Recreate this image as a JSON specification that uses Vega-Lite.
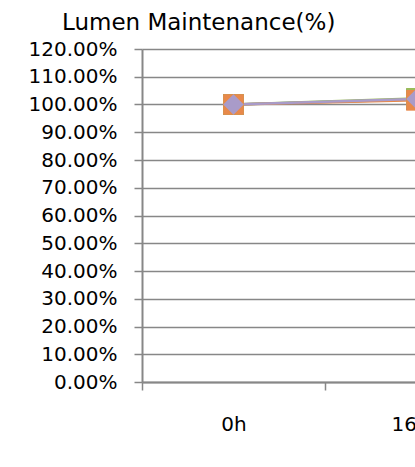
{
  "$schema": "https://vega.github.io/schema/vega-lite/v6.json",
  "autosize": {"type": "none"},
  "padding": {"left": 142, "top": 49, "right": 0, "bottom": 85},
  "width": 273,
  "height": 333,
  "background": "white",
  "title": {
    "text": "Lumen Maintenance(%)",
    "anchor": "start",
    "frame": "group",
    "dx": -80,
    "offset": 4,
    "fontSize": 23,
    "font": "DejaVu Sans",
    "fontWeight": "normal",
    "color": "#000000"
  },
  "data": {
    "values": [
      {"series": "S1", "time": "0h", "value": 1.0},
      {"series": "S1", "time": "168h", "value": 1.018},
      {"series": "S2", "time": "0h", "value": 1.0},
      {"series": "S2", "time": "168h", "value": 1.022},
      {"series": "S3", "time": "0h", "value": 1.0},
      {"series": "S3", "time": "168h", "value": 1.015},
      {"series": "S4", "time": "0h", "value": 1.0},
      {"series": "S4", "time": "168h", "value": 1.02}
    ]
  },
  "encoding": {
    "x": {
      "field": "time",
      "type": "nominal",
      "sort": ["0h", "168h"],
      "scale": {"domain": ["0h", "168h"], "range": [0, 366], "paddingInner": 0, "paddingOuter": 0},
      "axis": {
        "title": null,
        "labelAngle": 0,
        "tickBand": "extent",
        "tickSize": 8,
        "tickWidth": 1.5,
        "tickColor": "#878787",
        "domainColor": "#878787",
        "domainWidth": 2,
        "labelPadding": 24,
        "labelFontSize": 20,
        "labelFont": "DejaVu Sans",
        "labelColor": "#000000",
        "grid": false
      }
    },
    "y": {
      "field": "value",
      "type": "quantitative",
      "scale": {"domain": [0, 1.2], "nice": false, "zero": true},
      "axis": {
        "title": null,
        "format": ".2%",
        "values": [0, 0.1, 0.2, 0.3, 0.4, 0.5, 0.6, 0.7, 0.8, 0.9, 1.0, 1.1, 1.2],
        "tickSize": 8,
        "tickWidth": 1.5,
        "tickColor": "#878787",
        "domainColor": "#878787",
        "domainWidth": 2,
        "gridColor": "#878787",
        "gridWidth": 1.5,
        "labelPadding": 17,
        "labelFontSize": 20,
        "labelFont": "DejaVu Sans",
        "labelColor": "#000000"
      }
    },
    "color": {
      "field": "series",
      "type": "nominal",
      "scale": {"domain": ["S1", "S2", "S3", "S4"], "range": ["#4F81BD", "#9BBB59", "#E8894A", "#A99BC9"]},
      "legend": null
    }
  },
  "layer": [
    {
      "mark": {"type": "line", "strokeWidth": 2.5},
      "encoding": {
        "strokeWidth": {
          "field": "series",
          "type": "nominal",
          "scale": {"domain": ["S1", "S2", "S3", "S4"], "range": [2.5, 2.5, 3, 8]},
          "legend": null
        }
      }
    },
    {
      "mark": {"type": "point", "filled": true, "opacity": 1},
      "encoding": {
        "shape": {
          "field": "series",
          "type": "nominal",
          "scale": {"domain": ["S1", "S2", "S3", "S4"], "range": ["square", "square", "square", "diamond"]},
          "legend": null
        },
        "size": {
          "field": "series",
          "type": "nominal",
          "scale": {"domain": ["S1", "S2", "S3", "S4"], "range": [440, 420, 420, 420]},
          "legend": null
        }
      }
    }
  ],
  "config": {
    "view": {"stroke": null},
    "font": "DejaVu Sans"
  }
}
